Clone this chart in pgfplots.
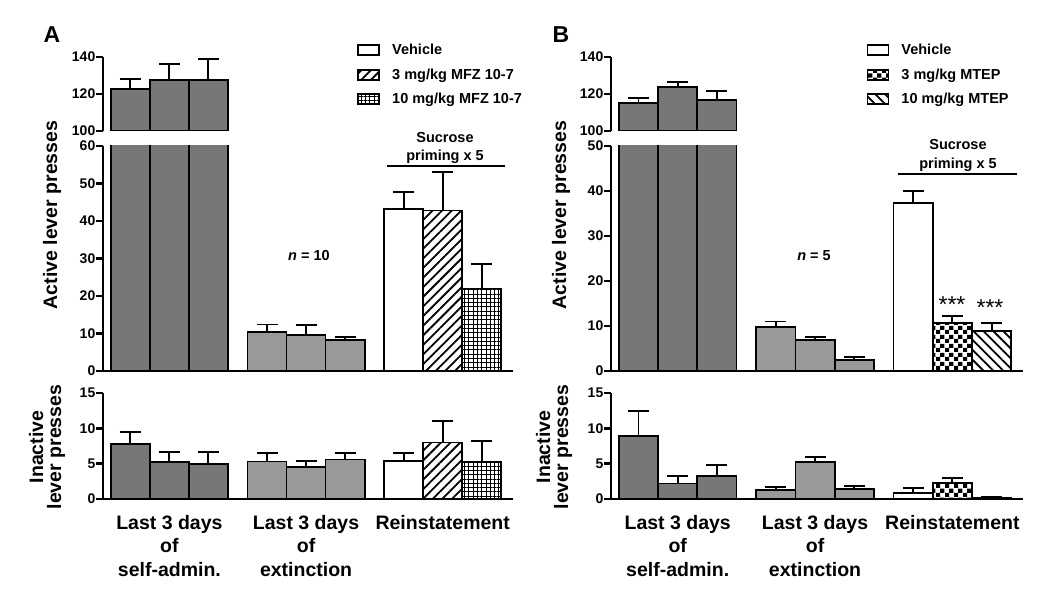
\documentclass[border=0pt]{standalone}
\usepackage{fontspec}
\setmainfont{Liberation Sans}
\usepackage{pgfplots}
\pgfplotsset{compat=1.18}
\usepackage{pgfplotstable}
\usetikzlibrary{patterns,patterns.meta}

\definecolor{sagray}{HTML}{777777}
\definecolor{exgray}{HTML}{999999}

\pgfdeclarepatternformonly{bigchecker}{\pgfpointorigin}{\pgfqpoint{9pt}{9pt}}{\pgfqpoint{9pt}{9pt}}{%
  \pgfpathrectangle{\pgfpointorigin}{\pgfqpoint{4.5pt}{4.5pt}}%
  \pgfpathrectangle{\pgfqpoint{4.5pt}{4.5pt}}{\pgfqpoint{4.5pt}{4.5pt}}%
  \pgfusepath{fill}}

% panel A: active / inactive lever presses (mean, SEM)
\pgfplotstableread{
x y e
0.7 122.5 5.5
1.7 127.5 8.5
2.7 127.5 11.2
4.2 10.4 2.0
5.2 9.7 2.6
6.2 8.3 0.8
7.7 43.3 4.4
8.7 42.8 10.2
9.7 22.0 6.5
}\aact
\pgfplotstableread{
x y e
0.7 7.8 1.7
1.7 5.2 1.4
2.7 5.0 1.7
4.2 5.3 1.2
5.2 4.5 0.9
6.2 5.6 0.9
7.7 5.4 1.1
8.7 8.0 3.1
9.7 5.2 3.0
}\ainact
% panel B
\pgfplotstableread{
x y e
0.7 115.3 2.4
1.7 123.6 3.0
2.7 116.8 4.8
4.2 9.7 1.3
5.2 6.8 0.8
6.2 2.4 0.8
7.7 37.3 2.7
8.7 10.7 1.5
9.7 8.9 1.8
}\bact
\pgfplotstableread{
x y e
0.7 8.9 3.5
1.7 2.2 1.0
2.7 3.25 1.55
4.2 1.27 0.45
5.2 5.2 0.8
6.2 1.4 0.5
7.7 0.85 0.75
8.7 2.25 0.75
9.7 0.15 0.2
}\binact

\pgfplotsset{
  bar/.style={ybar, bar width=1, draw=black, line width=1.8pt,
    error bars/y dir=plus, error bars/y explicit,
    error bars/error bar style={line width=1.9pt, black},
    error bars/error mark options={rotate=90, line width=1.9pt, black, mark size=10.5pt}},
  panel/.style={scale only axis, anchor=south west, xmin=0, xmax=10.5,
    axis y line=left, axis x line=bottom, axis line style={line width=2.5pt, -},
    tick align=outside, major tick length=7pt,
    ytick style={line width=2.5pt, black}, xtick=\empty,
    yticklabel style={font=\fontsize{14}{15}\selectfont\bfseries, inner sep=0.5pt},
    /pgf/number format/assume math mode=true, axis on top},
  toppart/.style={panel, axis x line=none, ymin=100, ymax=140, ytick={100,120,140}, height=74pt},
  catlabels/.style={xtick={1.7,5.2,8.7},
    xticklabels={{Last 3 days\\of\\self-admin.},{Last 3 days\\of\\extinction},{Reinstatement}},
    xtick style={draw=none},
    xticklabel style={font=\fontsize{19.5}{23.5}\selectfont\bfseries, align=center, inner sep=0pt, yshift=-9pt}},
  leg/.style={legend cell align=left,
    legend image code/.code={\draw[##1] (0pt,-5pt) rectangle (21pt,5pt); \path (31pt,0pt);},
    legend style={draw=none, fill=none, inner sep=0pt, row sep=8.5pt,
      font=\fontsize{14.5}{16}\selectfont\bfseries, anchor=north west}},
  hatchA/.style={pattern={Lines[angle=45,distance=6.8pt,line width=1.8pt]}},
  gridA/.style={pattern={Hatch[angle=0,distance=4.3pt,line width=0.8pt]}},
  hatchB/.style={pattern={Lines[angle=-45,distance=7pt,line width=1.8pt]}},
}

\begin{document}
\begin{tikzpicture}[x=1pt,y=1pt]
\path[use as bounding box] (0,0) rectangle (1050,595);

% ---------- panel A ----------
\begin{axis}[toppart, at={(103pt,464pt)}, width=410pt]
\addplot[bar, fill=sagray, restrict x to domain=0:3] table[x=x, y=y, y error=e] {\aact};
\end{axis}

\begin{axis}[panel, leg, at={(103pt,224pt)}, width=410pt, height=225pt, ymin=0, ymax=60, ytick={0,10,...,60},
  legend style={at={(axis description cs:0.62,1.462)}}]
\addplot[bar, fill=sagray, forget plot, restrict x to domain=0:3] table[x=x, y=y, y error=e] {\aact};
\addplot[bar, fill=exgray, forget plot, restrict x to domain=3.5:7] table[x=x, y=y, y error=e] {\aact};
\addplot[bar, fill=white, restrict x to domain=7.5:7.9] table[x=x, y=y, y error=e] {\aact};
\addlegendentry{Vehicle}
\addplot[bar, hatchA, restrict x to domain=8.5:8.9] table[x=x, y=y, y error=e] {\aact};
\addlegendentry{3 mg/kg MFZ 10-7}
\addplot[bar, gridA, restrict x to domain=9.5:9.9] table[x=x, y=y, y error=e] {\aact};
\addlegendentry{10 mg/kg MFZ 10-7}
\end{axis}

\begin{axis}[panel, catlabels, at={(103pt,96pt)}, width=410pt, height=106pt, ymin=0, ymax=15, ytick={0,5,10,15}]
\addplot[bar, fill=sagray, restrict x to domain=0:3] table[x=x, y=y, y error=e] {\ainact};
\addplot[bar, fill=exgray, restrict x to domain=3.5:7] table[x=x, y=y, y error=e] {\ainact};
\addplot[bar, fill=white, restrict x to domain=7.5:7.9] table[x=x, y=y, y error=e] {\ainact};
\addplot[bar, hatchA, restrict x to domain=8.5:8.9] table[x=x, y=y, y error=e] {\ainact};
\addplot[bar, gridA, restrict x to domain=9.5:9.9] table[x=x, y=y, y error=e] {\ainact};
\end{axis}

% ---------- panel B ----------
\begin{axis}[toppart, at={(611pt,464pt)}, width=412pt]
\addplot[bar, fill=sagray, restrict x to domain=0:3] table[x=x, y=y, y error=e] {\bact};
\end{axis}

\begin{axis}[panel, leg, at={(611pt,224pt)}, width=412pt, height=225pt, ymin=0, ymax=50, ytick={0,10,...,50},
  legend style={at={(axis description cs:0.62,1.462)}}]
\addplot[bar, fill=sagray, forget plot, restrict x to domain=0:3] table[x=x, y=y, y error=e] {\bact};
\addplot[bar, fill=exgray, forget plot, restrict x to domain=3.5:7] table[x=x, y=y, y error=e] {\bact};
\addplot[bar, fill=white, restrict x to domain=7.5:7.9] table[x=x, y=y, y error=e] {\bact};
\addlegendentry{Vehicle}
\addplot[bar, pattern=bigchecker, restrict x to domain=8.5:8.9] table[x=x, y=y, y error=e] {\bact};
\addlegendentry{3 mg/kg MTEP}
\addplot[bar, hatchB, restrict x to domain=9.5:9.9] table[x=x, y=y, y error=e] {\bact};
\addlegendentry{10 mg/kg MTEP}
\end{axis}

\begin{axis}[panel, catlabels, at={(611pt,96pt)}, width=412pt, height=106pt, ymin=0, ymax=15, ytick={0,5,10,15}]
\addplot[bar, fill=sagray, restrict x to domain=0:3] table[x=x, y=y, y error=e] {\binact};
\addplot[bar, fill=exgray, restrict x to domain=3.5:7] table[x=x, y=y, y error=e] {\binact};
\addplot[bar, fill=white, restrict x to domain=7.5:7.9] table[x=x, y=y, y error=e] {\binact};
\addplot[bar, pattern=bigchecker, restrict x to domain=8.5:8.9] table[x=x, y=y, y error=e] {\binact};
\addplot[bar, hatchB, restrict x to domain=9.5:9.9] table[x=x, y=y, y error=e] {\binact};
\end{axis}

% ---------- labels and annotations ----------
\begin{scope}[every node/.style={font=\bfseries}]
\node[font=\fontsize{23}{23}\selectfont\bfseries] at (52,560) {A};
\node[font=\fontsize{23}{23}\selectfont\bfseries] at (561,560) {B};
\node[rotate=90, font=\fontsize{19.5}{20}\selectfont\bfseries] at (52,380) {Active lever presses};
\node[rotate=90, font=\fontsize{19.5}{20}\selectfont\bfseries] at (561,380) {Active lever presses};
\node[rotate=90, align=center, font=\fontsize{19.5}{18}\selectfont\bfseries] at (47,148) {Inactive\\lever presses};
\node[rotate=90, align=center, font=\fontsize{19.5}{18}\selectfont\bfseries] at (554,148) {Inactive\\lever presses};
\node[align=center, font=\fontsize{14.5}{18.5}\selectfont\bfseries] at (445,447) {Sucrose\\priming x 5};
\draw[line width=2.8pt] (387,429) -- (505,429);
\node[align=center, font=\fontsize{14.5}{18.5}\selectfont\bfseries] at (958,439.5) {Sucrose\\priming x 5};
\draw[line width=2.8pt] (898,421) -- (1017,421);
\node[font=\fontsize{14.5}{16}\selectfont\bfseries] at (309,339) {\textit{n} = 10};
\node[font=\fontsize{14.5}{16}\selectfont\bfseries] at (814,339) {\textit{n} = 5};
\node[font=\fontsize{23}{23}\selectfont] at (952,290) {***};
\node[font=\fontsize{23}{23}\selectfont] at (990,287) {***};
\end{scope}
\end{tikzpicture}
\end{document}
